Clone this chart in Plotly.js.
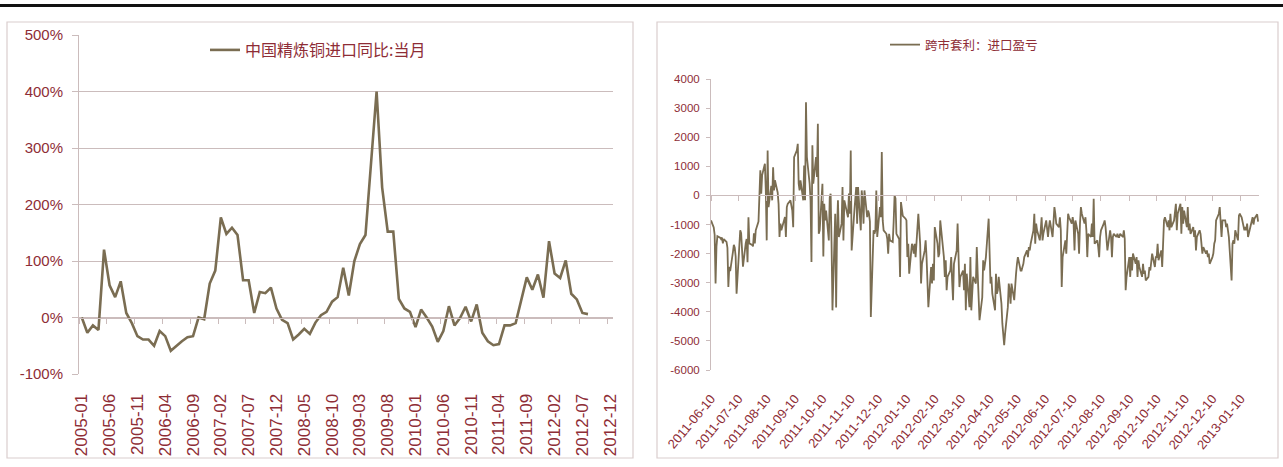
<!DOCTYPE html>
<html>
<head>
<meta charset="utf-8">
<script src="https://cdn.plot.ly/plotly-3.0.1.min.js"></script>
<style>
  html, body { margin: 0; padding: 0; background: #ffffff; }
  #chart { width: 1283px; height: 467px; }
</style>
</head>
<body>
<div id="chart"></div>
<script>
// ---- Left panel: China refined copper imports, year-on-year, monthly (%) ----
const importSeriesName = '中国精炼铜进口同比:当月';
const importYoY = [
  0, -27, -14, -22, 120, 57, 36, 64, 8, -10, -33, -39,          // 2005
  -39, -50, -24, -33, -59, -50, -42, -35, -33, 0, -3, 60,       // 2006
  83, 177, 148, 159, 146, 66, 66, 8, 45, 43, 53, 16,            // 2007
  -4, -10, -39, -30, -20, -29, -9, 4, 10, 28, 36, 88,           // 2008
  39, 100, 130, 146, 280, 400, 230, 152, 152, 33, 16, 10,       // 2009
  -17, 14, 0, -16, -43, -24, 20, -14, -1, 19, -7, 23,           // 2010
  -27, -42, -49, -47, -14, -14, -10, 32, 71, 49, 76, 35,        // 2011
  135, 78, 70, 101, 42, 32, 8, 6                                // 2012
];
const importYTicks = [-100, 0, 100, 200, 300, 400, 500];
const importYTickText = ['-100%', '0%', '100%', '200%', '300%', '400%', '500%'];

// ---- Right panel: cross-market arbitrage, import profit / loss (daily) ----
const spreadSeriesName = '跨市套利：进口盈亏';
const spreadStart = '2011-06-10';
const spread = [
  // 2011-06-10 .. 2011-07-08
  -860, -1100, -1350, -3030, -1750, -1400, -1450, -1500, -1450, -1650, -1500, -1600, -1800, -3150, -2450, -2600, -1950, -1700, -1800, -2100, -3380,
  // 2011-07-11 .. 2011-08-09
  -1500, -1200, -1300, -1900, -2450, -1650, -1500, -2300, -750, -1650, -1700, -1750, -1300, -1650, -1200, -900, -170, 860, 60, 700, 1090, 170,
  // 2011-08-10 .. 2011-09-09
  -1545, 1545, -400, 330, -170, 970, 170, 520, 100, -300, -1430, -970, -1200, -900, -740, -1430, -400, -290, -170, -350, -520, -1090, 1317,
  // 2011-09-12 .. 2011-10-07
  1545, 1775, 400, 170, 520, -170, 1030, -170, 3200, 1320, 400, -170, -2290, 1720, 400, 1320, 630, 2460, -1320, -1200,
  // 2011-10-10 .. 2011-11-09
  400, -2100, -290, -860, -520, -1545, -60, 60, -1660, -3950, -630, -3850, -1200, -170, -1430, -970, 290, -1545, -170, -290, -750, 60, -630,
  // 2011-11-10 .. 2011-12-09
  1545, -1890, -520, 60, 290, -970, 290, -1200, 170, -170, -970, 170, -750, -520, -630, -900, -4180, -1200, -1320, -1200, 170, -1430,
  // 2011-12-12 .. 2012-01-09
  -400, -750, 1490, -860, -1200, -1320, -1490, -2000, -1320, -1545, -1600, -900, 0, -100, -1320, -1500, -2800, -230, -500, -700, -800,
  // 2012-01-10 .. 2012-02-09
  -860, -2120, -1660, -2690, -1660, -1775, -2000, -1660, -2120, -630, -1090, -1660, -3030, -2350, -1890, -1545, -2120, -2800, -3840, -2460, -3030, -2350, -2920,
  // 2012-02-10 .. 2012-03-09
  -1090, -1660, -2120, -2000, -860, -1200, -2120, -2800, -2230, -3260, -2800, -2580, -2120, -2920, -3600, -2350, -1890, -970, -2230, -3150, -2800,
  // 2012-03-12 .. 2012-04-09
  -2580, -3260, -2350, -3950, -2690, -3840, -2120, -3950, -3500, -2800, -3030, -1775, -2690, -3600, -4290, -3500, -2230, -2580, -2350, -2120, -800,
  // 2012-04-10 .. 2012-05-09
  -2470, -3030, -2800, -3380, -3950, -2690, -3380, -3260, -2800, -3720, -4400, -4980, -5150, -4750, -3840, -3030, -3260, -3720, -3030, -3600, -3000, -2690,
  // 2012-05-10 .. 2012-06-08
  -2350, -2120, -2580, -2580, -2460, -2350, -2120, -1890, -2120, -1775, -1890, -1660, -1200, -630, -1660, -970, -1200, -1545, -1200, -750, -1545, -1300,
  // 2012-06-11 .. 2012-07-09
  -860, -1200, -1430, -1090, -860, -1430, -630, -400, -630, -970, -1090, -750, -1200, -3150, -2120, -1545, -2000, -1200, -630, -750, -970,
  // 2012-07-10 .. 2012-08-09
  -750, -970, -1890, -860, -1320, -2000, -970, -400, -630, -970, -750, -1200, -2120, -1320, -1430, -970, -1430, -115, -1660, -1545, -1775, -2120, -1430,
  // 2012-08-10 .. 2012-09-07
  -1200, -970, -860, -1090, -1545, -1890, -1200, -1430, -2120, -1430, -1320, -1430, -1320, -1430, -1430, -1320, -1430, -1200, -1490, -3260, -2800,
  // 2012-09-10 .. 2012-10-09
  -2120, -2800, -2120, -2580, -2000, -2350, -2120, -2800, -2230, -2460, -2800, -2350, -2690, -2580, -2920, -2800, -2460, -2580, -2350, -2000, -2460, -2120,
  // 2012-10-10 .. 2012-11-09
  -2120, -1660, -2230, -1890, -2460, -1320, -860, -750, -1090, -860, -1200, -630, -1090, -860, -400, -290, -1200, -630, -290, -1320, -400, -970, -520,
  // 2012-11-12 .. 2012-12-07
  -1090, -400, -1200, -970, -1320, -1090, -1430, -1200, -1890, -1430, -1200, -1320, -1660, -2000, -1775, -2000, -1890, -2120, -2000, -2350,
  // 2012-12-10 .. 2013-01-09
  -2120, -2000, -1660, -1545, -860, -630, -400, -1200, -1430, -860, -860, -1090, -970, -1200, -1430, -2920, -1660, -1545, -1660, -1200, -1545, -700, -630,
  // 2013-01-10 .. 2013-01-29
  -700, -750, -1200, -1090, -1200, -970, -1430, -970, -860, -750, -1000, -800, -650, -900
];
const spreadYTicks = [4000, 3000, 2000, 1000, 0, -1000, -2000, -3000, -4000, -5000, -6000];
const spreadYTickText = ['4000', '3000', '2000', '1000', '0', '-1000', '-2000', '-3000', '-4000', '-5000', '-6000'];

// ---- calendars ----
const months = [];
for (let y = 2005; y <= 2012; y++) {
  for (let m = 1; m <= 12; m++) months.push(y + '-' + String(m).padStart(2, '0'));
}
const monthTicks = months.filter((_, i) => i % 5 === 0);

function tradingDays(start, n) {
  const out = [];
  const d = new Date(start + 'T00:00:00Z');
  while (out.length < n) {
    const wd = d.getUTCDay();
    if (wd !== 0 && wd !== 6) out.push(d.toISOString().slice(0, 10));
    d.setUTCDate(d.getUTCDate() + 1);
  }
  return out;
}
const spreadDates = tradingDays(spreadStart, spread.length);

// ---- styling ----
const W = 1283, H = 467;
const LINE = '#7a6d52';
const LABEL = '#8e2d36';
const GRID = '#cbbcbc';
const FRAME = '#dacdcd';
const FONT = 'Liberation Sans, Arial, "Noto Sans CJK SC", sans-serif';
const CJK = '"Noto Sans CJK SC", "Liberation Sans", sans-serif';

const px = v => v / W;
const py = v => 1 - v / H;

const leftX = [px(79), px(613)];
const leftY = [py(374), py(35)];
const rightX = [px(711), px(1259)];
const rightY = [py(370), py(79)];

// position of the value 0 inside each panel, in paper units
const zeroPos = (dom, lo, hi) => dom[0] + (0 - lo) / (hi - lo) * (dom[1] - dom[0]);

const traces = [
  {
    type: 'scatter', mode: 'lines', name: importSeriesName,
    x: months.slice(0, importYoY.length), y: importYoY,
    xaxis: 'x', yaxis: 'y', legend: 'legend',
    line: { color: LINE, width: 2.6 }, hoverinfo: 'x+y'
  },
  {
    type: 'scatter', mode: 'lines', name: spreadSeriesName,
    x: spreadDates, y: spread,
    xaxis: 'x3', yaxis: 'y2', legend: 'legend2',
    line: { color: LINE, width: 1.8 }, hoverinfo: 'x+y'
  },
  // helpers so the zero-line axes with tick marks get drawn
  { type: 'scatter', mode: 'lines', x: [], y: [], xaxis: 'x2', yaxis: 'y', showlegend: false, hoverinfo: 'skip' },
  { type: 'scatter', mode: 'lines', x: [], y: [], xaxis: 'x4', yaxis: 'y2', showlegend: false, hoverinfo: 'skip' }
];

const layout = {
  width: W, height: H,
  margin: { l: 0, r: 0, t: 0, b: 0 },
  paper_bgcolor: '#ffffff', plot_bgcolor: 'rgba(0,0,0,0)',
  font: { family: FONT, color: LABEL },
  showlegend: true,
  hovermode: 'closest',

  // left panel
  xaxis: {
    domain: leftX, anchor: 'y', type: 'category',
    categoryorder: 'array', categoryarray: months,
    range: [-0.5, months.length - 0.5],
    tickvals: monthTicks, ticktext: monthTicks,
    tickangle: -90, tickfont: { size: 17, color: LABEL },
    ticks: 'outside', ticklen: 12, tickcolor: 'rgba(0,0,0,0)',
    showgrid: false, showline: false, zeroline: false, fixedrange: true
  },
  xaxis2: {
    overlaying: 'x', anchor: 'free', side: 'bottom',
    position: zeroPos(leftY, -100, 500),
    type: 'linear', range: [-0.5, months.length - 0.5],
    tick0: -0.5, dtick: 5,
    ticks: 'outside', ticklen: 5, tickcolor: GRID, tickwidth: 1,
    showticklabels: false, showline: true, linecolor: GRID, linewidth: 1,
    showgrid: false, zeroline: false, fixedrange: true
  },
  yaxis: {
    domain: leftY, anchor: 'x',
    range: [-100, 500],
    tickvals: importYTicks, ticktext: importYTickText,
    tickfont: { size: 15, color: LABEL },
    ticks: 'outside', ticklen: 6, tickcolor: GRID, ticklabelstandoff: 6,
    showgrid: true, gridcolor: GRID, gridwidth: 1,
    showline: true, linecolor: GRID, linewidth: 1,
    zeroline: false, fixedrange: true
  },

  // right panel
  xaxis3: {
    domain: rightX, anchor: 'y2', type: 'date',
    range: ['2011-06-10', '2013-01-30'],
    tick0: '2011-06-10', dtick: 'M1', tickformat: '%Y-%m-%d',
    tickangle: -50, tickfont: { size: 13, color: LABEL },
    ticks: 'outside', ticklen: 15, tickcolor: 'rgba(0,0,0,0)',
    showgrid: false, showline: false, zeroline: false, fixedrange: true
  },
  xaxis4: {
    overlaying: 'x3', anchor: 'free', side: 'bottom',
    position: zeroPos(rightY, -6000, 4000),
    type: 'date', range: ['2011-06-10', '2013-01-30'],
    tick0: '2011-06-10', dtick: 'M1',
    ticks: 'outside', ticklen: 5, tickcolor: GRID, tickwidth: 1,
    showticklabels: false, showline: true, linecolor: GRID, linewidth: 1,
    showgrid: false, zeroline: false, fixedrange: true
  },
  yaxis2: {
    domain: rightY, anchor: 'x3',
    range: [-6000, 4000],
    tickvals: spreadYTicks, ticktext: spreadYTickText,
    tickfont: { size: 11.5, color: LABEL },
    ticks: 'outside', ticklen: 4, tickcolor: GRID, ticklabelstandoff: 4,
    showgrid: false, showline: true, linecolor: GRID, linewidth: 1,
    zeroline: false, fixedrange: true
  },

  legend: {
    x: px(205), y: py(50), xanchor: 'left', yanchor: 'middle',
    bgcolor: 'rgba(0,0,0,0)', borderwidth: 0,
    font: { family: CJK, size: 16, color: LABEL }
  },
  legend2: {
    x: px(885), y: py(45), xanchor: 'left', yanchor: 'middle',
    bgcolor: 'rgba(0,0,0,0)', borderwidth: 0,
    font: { family: CJK, size: 12.5, color: LABEL }
  },

  shapes: [
    // heavy rule across the top of the page
    { type: 'line', xref: 'paper', yref: 'paper', x0: 0, x1: 1, y0: py(5.5), y1: py(5.5),
      line: { color: '#111111', width: 3 } },
    // panel frames
    { type: 'rect', xref: 'paper', yref: 'paper', x0: px(7), x1: px(633), y0: py(458), y1: py(22),
      line: { color: FRAME, width: 1.2 }, fillcolor: 'rgba(0,0,0,0)', layer: 'below' },
    { type: 'rect', xref: 'paper', yref: 'paper', x0: px(657), x1: px(1278), y0: py(458), y1: py(22),
      line: { color: FRAME, width: 1.2 }, fillcolor: 'rgba(0,0,0,0)', layer: 'below' }
  ]
};

Plotly.newPlot('chart', traces, layout, { displayModeBar: false, staticPlot: true });
</script>
</body>
</html>
